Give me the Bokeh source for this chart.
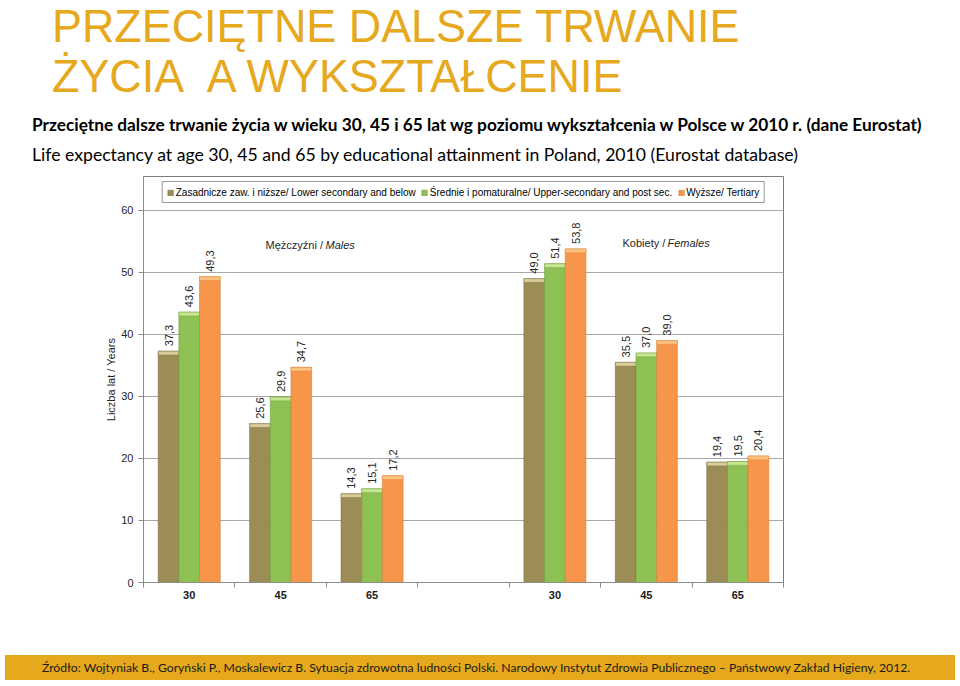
import math
from bokeh.plotting import figure
from bokeh.layouts import column
from bokeh.models import (Range1d, FixedTicker, Label, Legend, LegendItem,
                          ColumnDataSource, Div)
from bokeh.embed import file_html
from bokeh.resources import INLINE
from bokeh.core.properties import value

# ---------------- data ----------------
age_labels = ["30", "45", "65"]
males_lower = [37.3, 25.6, 14.3]
males_upper = [43.6, 29.9, 15.1]
males_tertiary = [49.3, 34.7, 17.2]
females_lower = [49.0, 35.5, 19.4]
females_upper = [51.4, 37.0, 19.5]
females_tertiary = [53.8, 39.0, 20.4]
series_names = ["Zasadnicze zaw. i niższe/ Lower secondary and below",
                "Średnie i pomaturalne/ Upper-secondary and post sec.",
                "Wyższe/ Tertiary"]
y_ticks = [0, 10, 20, 30, 40, 50, 60]

title_1 = "PRZECIĘTNE DALSZE TRWANIE"
title_2 = "ŻYCIA&nbsp; A WYKSZTAŁCENIE"
subtitle_pl = ("Przeciętne dalsze trwanie życia w wieku 30, 45 i 65 lat wg poziomu "
               "wykształcenia w Polsce w 2010 r. (dane Eurostat)")
subtitle_en = ("Life expectancy at age 30, 45 and 65 by educational attainment "
               "in Poland, 2010 (Eurostat database)")
source_txt = ("Źródło: Wojtyniak B., Goryński P., Moskalewicz B. Sytuacja zdrowotna "
              "ludności Polski. Narodowy Instytut Zdrowia Publicznego – Państwowy "
              "Zakład Higieny, 2012.")

# ---------------- styles ----------------
FONT = "Liberation Sans"
GOLD = "#E6A81C"
fills = ["#9C8C55", "#8DC153", "#F7964A"]
caps = ["#D9CD9B", "#C8E591", "#FCC27E"]
edges = ["#7A6C3E", "#6E9E3A", "#D97A30"]
offsets = [-0.226, 0.0, 0.226]
bar_w = 0.226

male_slots = [0, 1, 2]
female_slots = [4, 5, 6]
n_slots = 7

W = 960
HEAD_H = 168
MAIN_H = 472
FOOT_H = 46

# ---------------- header (HTML) ----------------
def line(txt, left, top, size, color, weight="normal", font="Liberation Sans", sx=1.0):
    return (f'<div style="position:absolute;left:{left}px;top:{top}px;white-space:nowrap;'
            f'font-family:\'{font}\';font-size:{size}px;line-height:1;color:{color};'
            f'font-weight:{weight};transform:scaleX({sx});transform-origin:left top;">'
            f'{txt}</div>')

head_html = (f'<div style="position:relative;width:{W}px;height:{HEAD_H}px;background:white;">'
             + line(title_1, 52, 2, 47, GOLD, sx=0.955)
             + line(title_2, 52, 52, 47, GOLD, sx=0.955)
             + line(subtitle_pl, 32, 116, 17.25, "#000000", weight="bold", font="Lato")
             + line(subtitle_en, 32, 145.5, 17.65, "#000000", font="Lato")
             + '</div>')
head = Div(text=head_html, width=W, height=HEAD_H, margin=0)

# ---------------- main chart ----------------
p = figure(width=W, height=MAIN_H, output_backend="svg", toolbar_location=None,
           x_range=Range1d(0, n_slots), y_range=Range1d(0, 65.48),
           min_border_left=143, min_border_right=177,
           min_border_top=8, min_border_bottom=58,
           background_fill_color="white", border_fill_color="white", margin=0)
p.outline_line_color = "#7A7A7A"
p.outline_line_width = 1

p.xaxis.ticker = FixedTicker(ticks=[s + 0.5 for s in male_slots + female_slots],
                             minor_ticks=list(range(n_slots + 1)))
p.xaxis.major_label_overrides = {float(s + 0.5): l for s, l in
                                 zip(male_slots + female_slots, age_labels + age_labels)}
p.xaxis.major_tick_line_color = None
p.xaxis.major_tick_out = 5
p.xaxis.major_tick_in = 0
p.xaxis.minor_tick_out = 5
p.xaxis.minor_tick_in = 0
p.xaxis.minor_tick_line_color = "#8C8C8C"
p.xaxis.axis_line_color = "#8C8C8C"
p.xaxis.major_label_text_font = FONT
p.xaxis.major_label_text_font_size = "11px"
p.xaxis.major_label_text_font_style = "bold"
p.xaxis.major_label_text_color = "#1A1A1A"
p.xaxis.major_label_standoff = 3

p.yaxis.ticker = FixedTicker(ticks=y_ticks)
p.yaxis.minor_tick_line_color = None
p.yaxis.major_tick_out = 5
p.yaxis.major_tick_in = 0
p.yaxis.major_tick_line_color = "#8C8C8C"
p.yaxis.axis_line_color = "#8C8C8C"
p.yaxis.major_label_text_font = FONT
p.yaxis.major_label_text_font_size = "11px"
p.yaxis.major_label_text_color = "#262626"
p.yaxis.axis_label = "Liczba lat / Years"
p.yaxis.axis_label_text_font = FONT
p.yaxis.axis_label_text_font_size = "11px"
p.yaxis.axis_label_text_font_style = "normal"
p.yaxis.axis_label_text_color = "#262626"
p.yaxis.axis_label_standoff = 1

p.xgrid.grid_line_color = None
p.ygrid.grid_line_color = "#A8A8A8"
p.ygrid.grid_line_width = 1

series = [(males_lower, females_lower), (males_upper, females_upper),
          (males_tertiary, females_tertiary)]
legend_items = []
for k, (mv, fv) in enumerate(series):
    xs = [s + 0.5 + offsets[k] for s in male_slots] + [s + 0.5 + offsets[k] for s in female_slots]
    vals = list(mv) + list(fv)
    src = ColumnDataSource(dict(
        x=xs, top=vals, cap_bottom=[v - 0.6 for v in vals],
        label=[f"{v:.1f}".replace(".", ",") for v in vals]))
    r = p.vbar(x="x", top="top", bottom=0, width=bar_w, source=src,
               fill_color=fills[k], line_color=edges[k], line_width=0.6)
    p.vbar(x="x", top="top", bottom="cap_bottom", width=bar_w, source=src,
           fill_color=caps[k], line_color=edges[k], line_width=0.4)
    p.text(x="x", y="top", text="label", source=src, angle=math.pi / 2,
           text_align="left", text_baseline="middle", y_offset=-5,
           text_font=value(FONT), text_font_size="11px", text_color="#262626")
    legend_items.append(LegendItem(label=series_names[k], renderers=[r]))

legend = Legend(items=legend_items, orientation="horizontal", location="top_center",
                border_line_color="#333333", border_line_width=1,
                padding=4, spacing=5, margin=5, label_standoff=2,
                glyph_width=7, glyph_height=7, label_height=12,
                label_text_font=FONT, label_text_font_size="10px",
                label_text_color="#000000", background_fill_color="white")
p.add_layout(legend)


def lab(txt, x, y, style="normal"):
    p.add_layout(Label(x=x, y=y, x_units="screen", y_units="screen", text=txt,
                       text_font=FONT, text_font_size="11px", text_color="#262626",
                       text_font_style=style, text_baseline="alphabetic",
                       text_align="left"))

# group captions (screen units from the plot frame's lower-left corner)
lab("Mężczyźni / ", 122, 338)
lab("Males", 182, 338, style="italic")
lab("Kobiety / ", 479, 340)
lab("Females", 524, 340, style="italic")

# ---------------- footer (HTML) ----------------
foot_html = (f'<div style="position:relative;width:{W}px;height:{FOOT_H}px;background:white;">'
             f'<div style="position:absolute;left:5px;top:15px;width:950px;height:25px;'
             f'background:{GOLD};"></div>'
             f'<div style="position:absolute;left:42px;top:15px;height:25px;line-height:25px;'
             f'white-space:nowrap;font-family:\'Lato\';font-size:12.2px;color:#1A1A1A;">'
             f'{source_txt}</div></div>')
foot = Div(text=foot_html, width=W, height=FOOT_H, margin=0)

page = column(head, p, foot, spacing=0)
open("out.html", "w").write(file_html(page, INLINE))
